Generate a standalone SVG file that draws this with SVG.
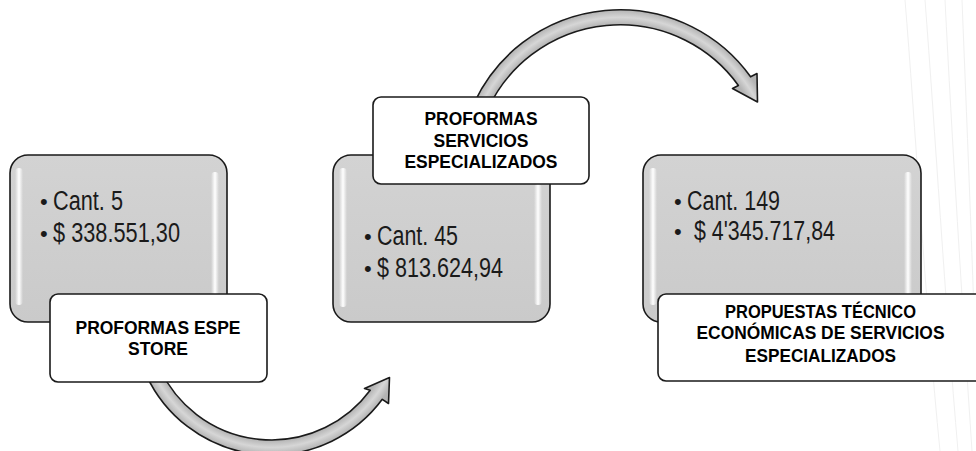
<svg xmlns="http://www.w3.org/2000/svg" width="976" height="451" viewBox="0 0 976 451">
  <defs>
    <style>
      .box { fill: url(#boxFill); stroke: #1a1a1a; stroke-width: 1.6; }
      .hl { fill: url(#hl); }
      .label { fill: #ffffff; stroke: #1a1a1a; stroke-width: 1.6; }
      .bt { font-family: "Liberation Sans Narrow", "Liberation Sans", Arial, sans-serif; font-size: 27px; fill: #1a1a1a; }
      .bul { font-family: "Liberation Sans", Arial, sans-serif; font-size: 22px; fill: #1a1a1a; }
      .lt { font-family: "Liberation Sans", Arial, sans-serif; font-weight: bold; font-size: 18px; fill: #000000; text-anchor: middle; }
      .arrow { stroke: #1a1a1a; stroke-width: 1.6; stroke-linejoin: round; }
      .bg { fill: none; stroke: #f0f0f0; stroke-width: 1; }
    </style>
    <linearGradient id="boxFill" x1="0" y1="0" x2="0" y2="1">
      <stop offset="0" stop-color="#d3d3d3"/>
      <stop offset="1" stop-color="#cacaca"/>
    </linearGradient>
    <linearGradient id="hl" x1="0" y1="0" x2="1" y2="0">
      <stop offset="0" stop-color="#ffffff" stop-opacity="0"/>
      <stop offset="0.5" stop-color="#ffffff" stop-opacity="1"/>
      <stop offset="1" stop-color="#ffffff" stop-opacity="0"/>
    </linearGradient>
    <radialGradient id="arc1" gradientUnits="userSpaceOnUse" cx="271.5" cy="317" r="138">
      <stop offset="0" stop-color="#b3b3b3"/>
      <stop offset="0.891" stop-color="#b3b3b3"/>
      <stop offset="0.945" stop-color="#d6d6d6"/>
      <stop offset="1" stop-color="#b3b3b3"/>
    </radialGradient>
    <radialGradient id="arc2" gradientUnits="userSpaceOnUse" cx="620" cy="170.6" r="160.8">
      <stop offset="0" stop-color="#b3b3b3"/>
      <stop offset="0.907" stop-color="#b3b3b3"/>
      <stop offset="0.953" stop-color="#d6d6d6"/>
      <stop offset="1" stop-color="#b3b3b3"/>
    </radialGradient>
  </defs>

  <g id="background">
    <path class="bg" d="M905,0 C915,120 925,300 940,451"/>
    <path class="bg" d="M925,0 C935,130 945,300 958,451"/>
    <path class="bg" d="M945,0 C952,140 962,300 972,451"/>
    <path class="bg" d="M962,0 C968,150 974,300 976,380"/>
  </g>

  <g id="connectors">
    <path id="arrow1" class="arrow" fill="url(#arc1)" d="M146.4,375.3 A138,138 0 0 0 382.3,399.3 L388.5,403.5 L389.5,377.5 L364.5,388.5 L370.2,390.3 A123,123 0 0 1 160,369 Z"/>
    <path id="arrow2" class="arrow" fill="url(#arc2)" d="M474.3,102.6 A160.8,160.8 0 0 1 750.6,76.8 L757,73.5 L757.5,102 L732.5,88.5 L738.4,85.5 A145.8,145.8 0 0 0 487.9,109 Z"/>
  </g>

  <g id="node1">
    <rect class="box" x="10" y="155" width="217" height="167" rx="18"/>
    <rect class="hl" x="15" y="168" width="8" height="137" rx="4"/>
    <rect class="hl" x="211" y="172" width="8" height="125" rx="4"/>
    <text class="bul" x="40" y="209">•</text>
    <text class="bt" x="53" y="210" textLength="70" lengthAdjust="spacingAndGlyphs">Cant. 5</text>
    <text class="bul" x="40" y="241">•</text>
    <text class="bt" x="53" y="242" textLength="127" lengthAdjust="spacingAndGlyphs">$ 338.551,30</text>
  </g>
  <g id="node1-label">
    <rect class="label" x="50" y="294" width="217" height="88" rx="8"/>
    <text class="lt" x="158" y="334" textLength="165" lengthAdjust="spacingAndGlyphs">PROFORMAS ESPE</text>
    <text class="lt" x="158" y="355" textLength="60" lengthAdjust="spacingAndGlyphs">STORE</text>
  </g>

  <g id="node2">
    <rect class="box" x="333" y="155" width="217" height="167" rx="18"/>
    <rect class="hl" x="339" y="168" width="8" height="139" rx="4"/>
    <rect class="hl" x="534" y="184" width="8" height="121" rx="4"/>
    <text class="bul" x="364" y="244">•</text>
    <text class="bt" x="377" y="245" textLength="81" lengthAdjust="spacingAndGlyphs">Cant. 45</text>
    <text class="bul" x="364" y="276">•</text>
    <text class="bt" x="377" y="277" textLength="126" lengthAdjust="spacingAndGlyphs">$ 813.624,94</text>
  </g>
  <g id="node2-label">
    <rect class="label" x="373" y="97" width="216" height="87" rx="8"/>
    <text class="lt" x="481" y="125" textLength="113" lengthAdjust="spacingAndGlyphs">PROFORMAS</text>
    <text class="lt" x="481" y="147" textLength="95" lengthAdjust="spacingAndGlyphs">SERVICIOS</text>
    <text class="lt" x="481" y="168" textLength="153" lengthAdjust="spacingAndGlyphs">ESPECIALIZADOS</text>
  </g>

  <g id="node3">
    <rect class="box" x="643" y="155" width="278" height="167" rx="18"/>
    <rect class="hl" x="649" y="168" width="8" height="137" rx="4"/>
    <rect class="hl" x="904" y="172" width="8" height="125" rx="4"/>
    <text class="bul" x="674" y="209">•</text>
    <text class="bt" x="687" y="210" textLength="93" lengthAdjust="spacingAndGlyphs">Cant. 149</text>
    <text class="bul" x="674" y="239">•</text>
    <text class="bt" x="694" y="240" textLength="141" lengthAdjust="spacingAndGlyphs">$ 4'345.717,84</text>
  </g>
  <g id="node3-label">
    <rect class="label" x="658" y="294" width="325" height="87" rx="8"/>
    <text class="lt" x="820.5" y="318" textLength="191" lengthAdjust="spacingAndGlyphs">PROPUESTAS TÉCNICO</text>
    <text class="lt" x="820.5" y="339" textLength="248" lengthAdjust="spacingAndGlyphs">ECONÓMICAS DE SERVICIOS</text>
    <text class="lt" x="820.5" y="362" textLength="151" lengthAdjust="spacingAndGlyphs">ESPECIALIZADOS</text>
  </g>
</svg>
